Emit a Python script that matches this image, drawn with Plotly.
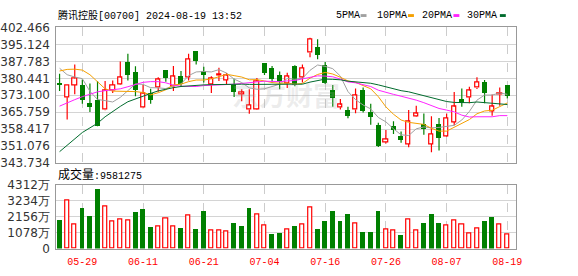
import plotly.graph_objects as go

W, H = 578, 276

dates = ["05-24","05-27","05-28","05-29","05-30","05-31","06-03","06-04","06-05","06-06",
         "06-07","06-11","06-12","06-13","06-14","06-17","06-18","06-19","06-20","06-21",
         "06-24","06-25","06-26","06-27","06-28","07-02","07-03","07-04","07-05","07-08",
         "07-09","07-10","07-11","07-12","07-15","07-16","07-17","07-18","07-19","07-22",
         "07-23","07-24","07-25","07-26","07-29","07-30","07-31","08-01","08-02","08-05",
         "08-06","08-07","08-08","08-09","08-12","08-13","08-14","08-15","08-16","08-19"]

open_ = [378.4,372.2,377.5,377.5,369.7,371.1,366.8,375.2,377.8,387.5,
         382.8,367.7,374.1,376.5,383.8,376.8,381.3,380.9,392.2,383.6,
         377.9,381.7,379.7,377.9,373.6,366.9,366.9,386.9,384.9,381.7,
         378.2,385.4,380.9,391.5,393.6,386.1,375.2,367.9,366.7,367.0,
         375.2,365.6,359.9,352.8,359.7,355.2,352.0,364.0,360.5,352.0,
         360.4,355.4,361.5,371.5,372.2,376.3,378.85,366.3,373.4,377.5]
close = [377.35,377.5,380.35,371.1,367.9,359.7,375.0,377.5,380.8,381.85,
         375.0,373.7,370.8,379.9,380.35,381.2,377.6,388.8,387.9,381.6,
         380.2,382.3,381.7,374.5,374.2,368.9,379.3,382.7,380.1,378.7,
         381.2,377.2,384.9,397.4,390.45,378.2,371.9,369.0,363.97,373.1,
         366.3,363.4,350.9,354.1,358.1,353.6,361.8,365.2,358.2,356.3,
         354.4,363.3,368.1,369.7,375.2,378.85,374.07,368.1,374.1,372.6]
high = [382.4,377.6,386.4,379.9,378.2,379.3,379.3,379.5,387.7,391.1,
        385.7,377.5,375.9,380.9,384.0,385.8,383.6,391.1,392.2,385.4,
        381.3,385.0,382.7,380.2,375.7,375.7,380.6,386.9,385.8,383.4,
        382.9,386.1,386.4,398.0,397.3,387.5,377.6,371.5,368.1,376.0,
        376.5,369.4,361.2,358.1,361.9,357.4,366.7,368.6,365.2,364.0,
        363.3,365.2,374.5,376.0,376.8,380.9,379.7,373.4,376.5,377.5]
low = [374.9,362.6,373.5,369.4,365.9,359.7,366.6,374.1,377.6,379.5,
       372.7,367.5,369.4,374.6,379.0,374.9,376.8,379.5,386.4,378.6,
       374.1,379.3,377.9,372.4,370.5,365.1,366.7,381.9,378.4,375.7,
       376.3,377.0,378.6,389.6,388.7,378.0,368.1,367.0,363.2,365.3,
       365.6,360.4,350.7,352.2,356.3,352.6,350.6,363.8,356.05,348.5,
       349.2,355.2,360.1,368.1,369.7,375.85,369.7,364.2,368.6,371.7]

ma5 = [384.8,382.0,381.0,380.3,374.8,371.3,370.8,370.2,372.2,375.0,
       378.0,377.8,376.4,376.3,376.0,377.2,378.0,381.6,383.2,383.4,
       383.2,384.2,382.7,380.1,378.6,376.3,375.7,375.9,377.0,377.9,
       380.4,380.0,380.4,383.9,386.2,385.6,384.6,381.4,374.7,371.2,
       368.9,367.2,363.5,361.6,358.6,356.0,355.7,358.6,359.4,359.0,
       359.2,359.5,360.1,362.4,366.1,371.0,373.2,373.2,374.1,373.5]
ma10 = [383.6,384.3,384.4,384.0,382.0,378.9,375.9,374.9,374.8,374.9,
        374.7,374.3,373.3,374.2,375.5,377.6,377.9,379.0,379.7,379.7,
        380.2,381.1,382.2,381.6,381.0,379.8,379.9,379.3,378.6,378.3,
        378.4,377.9,378.2,380.5,382.1,383.0,382.3,380.9,379.3,378.7,
        377.2,375.9,372.5,368.1,364.9,362.4,361.4,361.0,360.5,358.8,
        357.6,357.6,359.3,360.9,362.6,365.1,366.3,366.6,368.2,369.8]
ma20 = [368.4,369.9,371.2,372.5,373.5,374.6,375.1,375.5,375.9,376.8,
        377.9,378.7,379.0,379.0,378.5,377.5,377.0,376.8,376.9,377.3,
        377.4,377.7,377.8,377.9,378.2,378.7,378.9,379.2,379.1,379.0,
        379.3,379.5,380.2,381.0,381.5,381.4,381.1,380.1,378.9,378.5,
        377.8,376.9,375.3,374.3,373.5,372.7,371.9,371.0,369.9,368.8,
        367.4,366.7,365.9,364.5,363.7,363.8,363.9,363.8,364.3,364.3]
ma30 = [348.7,351.5,354.3,357.0,359.0,361.0,363.8,366.2,368.3,370.3,
        371.6,372.7,373.9,375.0,375.8,376.4,376.9,377.2,377.5,377.6,
        377.7,377.8,377.9,377.9,377.9,377.8,377.8,377.8,377.7,377.6,
        377.8,377.7,377.9,378.8,379.5,380.1,380.0,379.8,379.2,378.9,
        378.6,378.3,377.6,376.7,376.0,375.1,374.6,373.8,372.8,371.9,
        371.1,370.4,370.0,369.8,369.9,370.2,370.0,369.5,369.3,369.1]

vol_wan = [1943,3267,1601,2776,2199,4057,2818,1793,1986,1857,
           2519,2711,1495,1495,2050,1473,1430,2242,1366,2583,
           1217,1217,1174,1751,1559,2776,2263,1559,1046,1110,
           1281,1559,1623,2776,1366,1879,2583,1879,2349,1665,
           1174,1174,2583,1281,1217,918,1986,1217,1751,2349,
           1751,1559,1879,1623,982,1366,1879,2135,1623,958.1275]
vol_up = [0,1,1,0,0,0,1,1,1,1, 0,0,0,1,1,1,0,1,0,0,
          1,1,1,0,0,0,1,1,0,0, 1,0,1,1,0,0,0,0,0,1,
          0,0,0,1,1,0,1,1,0,0, 0,1,1,1,1,1,0,0,1,1]
last_volume = 9581275

price_ticks = [343.734,351.076,358.417,365.759,373.100,380.441,387.783,395.124,402.466]
vol_ticks = [0,1078,2156,3234,4312]
tick_dates = ["05-29","06-11","06-21","07-04","07-16","07-26","08-07","08-19"]

RED = "#ff0000"
GREEN = "#008000"
ma_styles = [("5PMA", ma5, "#a0a0a0"), ("10PMA", ma10, "#f5a000"),
             ("20PMA", ma20, "#ff22ff"), ("30PMA", ma30, "#006b2d")]

fig = go.Figure()

# wicks
rx, ry, gx, gy = [], [], [], []
for d, o, c, h, l in zip(dates, open_, close, high, low):
    if c >= o:
        rx += [d, d, None, d, d, None]
        ry += [h, c, None, o, l, None]
    else:
        gx += [d, d, None]
        gy += [h, l, None]

# bodies
up_idx = [i for i in range(len(dates)) if close[i] >= open_[i]]
dn_idx = [i for i in range(len(dates)) if close[i] < open_[i]]
fig.add_trace(go.Bar(x=[dates[i] for i in dn_idx], y=[close[i]-open_[i] for i in dn_idx],
                     base=[open_[i] for i in dn_idx], width=0.66,
                     marker=dict(color=GREEN, line=dict(width=0)), xaxis="x", yaxis="y"))
fig.add_trace(go.Bar(x=[dates[i] for i in up_idx], y=[close[i]-open_[i] for i in up_idx],
                     base=[open_[i] for i in up_idx], width=0.56,
                     marker=dict(color="white", line=dict(color=RED, width=1.2)), xaxis="x", yaxis="y"))
fig.add_trace(go.Scatter(x=gx, y=gy, mode="lines", line=dict(color=GREEN, width=1.2),
                         xaxis="x", yaxis="y", hoverinfo="skip"))
fig.add_trace(go.Scatter(x=rx, y=ry, mode="lines", line=dict(color=RED, width=1.2),
                         xaxis="x", yaxis="y", hoverinfo="skip"))
for name, vals, col in ma_styles:
    fig.add_trace(go.Scatter(x=dates, y=vals, mode="lines", line=dict(color=col, width=1),
                             xaxis="x", yaxis="y", name=name))

# volume
vu = [i for i in range(len(dates)) if vol_up[i]]
vd = [i for i in range(len(dates)) if not vol_up[i]]
fig.add_trace(go.Bar(x=[dates[i] for i in vd], y=[vol_wan[i] for i in vd], width=0.64,
                     marker=dict(color=GREEN, line=dict(width=0)), xaxis="x2", yaxis="y2"))
fig.add_trace(go.Bar(x=[dates[i] for i in vu], y=[vol_wan[i] for i in vu], width=0.54,
                     marker=dict(color="white", line=dict(color=RED, width=1.2)), xaxis="x2", yaxis="y2"))

xdom = [57/W, 522/W]
main_dom = [1-164.5/H, 1-21.5/H]
vol_dom = [1-254.5/H, 1-187/H]
xr = [-0.43, 60.1]
border = "#999999"
grid = "#d4d4d4"
lblfont = dict(family="DejaVu Sans", size=12, color="#333333")

common_x = dict(domain=xdom, type="category", categoryorder="array", categoryarray=dates,
                range=xr, tickvals=tick_dates, showgrid=True, griddash="dash",
                gridcolor="#cccccc", gridwidth=1, showline=True, mirror=True,
                linecolor=border, linewidth=1, ticks="", zeroline=False, fixedrange=True)

fig.update_layout(
    width=W, height=H, margin=dict(l=0, r=0, t=0, b=0),
    paper_bgcolor="white", plot_bgcolor="white", showlegend=False,
    barmode="overlay", bargap=0,
    xaxis=dict(common_x, anchor="y", showticklabels=False),
    xaxis2=dict(common_x, anchor="y2", matches="x", showticklabels=True,
                tickfont=dict(family="Liberation Mono", size=10, color=RED),
                ticklabelstandoff=3),
    yaxis=dict(domain=main_dom, range=[price_ticks[0], price_ticks[-1]], tickvals=price_ticks,
               ticktext=["%.3f" % v for v in price_ticks], showgrid=True, gridcolor=grid,
               showline=True, mirror=True, linecolor=border, linewidth=1, ticks="",
               zeroline=False, tickfont=lblfont, anchor="x", ticklabelstandoff=3, fixedrange=True),
    yaxis2=dict(domain=vol_dom, range=[0, vol_ticks[-1]], tickvals=vol_ticks,
                ticktext=[str(v) + ("万" if v else "") for v in vol_ticks], showgrid=True,
                gridcolor=grid, showline=True, mirror=True, linecolor=border, linewidth=1,
                ticks="", zeroline=False, tickfont=lblfont, anchor="x2", ticklabelstandoff=3,
                fixedrange=True),
)

ann = []
ann.append(dict(x=57/W, y=1-9/H, xref="paper", yref="paper", xanchor="left", yanchor="middle",
                text="腾讯控股[00700] 2024-08-19 13:52", showarrow=False,
                font=dict(family="Liberation Mono, Noto Sans CJK SC", size=10, color="#000000")))
ann.append(dict(x=57/W, y=1-177/H, xref="paper", yref="paper", xanchor="left", yanchor="middle",
                text='<span style="font-size:12px">成交量</span>:' + str(last_volume), showarrow=False,
                font=dict(family="Liberation Mono, Noto Sans CJK SC", size=10, color="#000000")))
ann.append(dict(x=290/W, y=1-92/H, xref="paper", yref="paper", xanchor="center", yanchor="middle",
                text="<b>东方财富</b>", showarrow=False,
                font=dict(family="Noto Sans CJK SC", size=27, color="rgba(170,170,170,0.22)")))
legend_x = [338, 380, 425, 471]
square_x = [365, 413, 459, 506]
shapes = []
for (name, vals, col), lx, sx in zip(ma_styles, legend_x, square_x):
    ann.append(dict(x=lx/W, y=1-9/H, xref="paper", yref="paper", xanchor="left", yanchor="middle",
                    text=name, showarrow=False,
                    font=dict(family="Liberation Mono", size=10, color="#000000")))
    shapes.append(dict(type="rect", xref="paper", yref="paper", x0=sx/W, x1=(sx+6)/W,
                       y0=1-10.5/H, y1=1-7.5/H, fillcolor=col, line=dict(width=0)))
fig.update_layout(annotations=ann, shapes=shapes)

fig.write_html("out.html")
